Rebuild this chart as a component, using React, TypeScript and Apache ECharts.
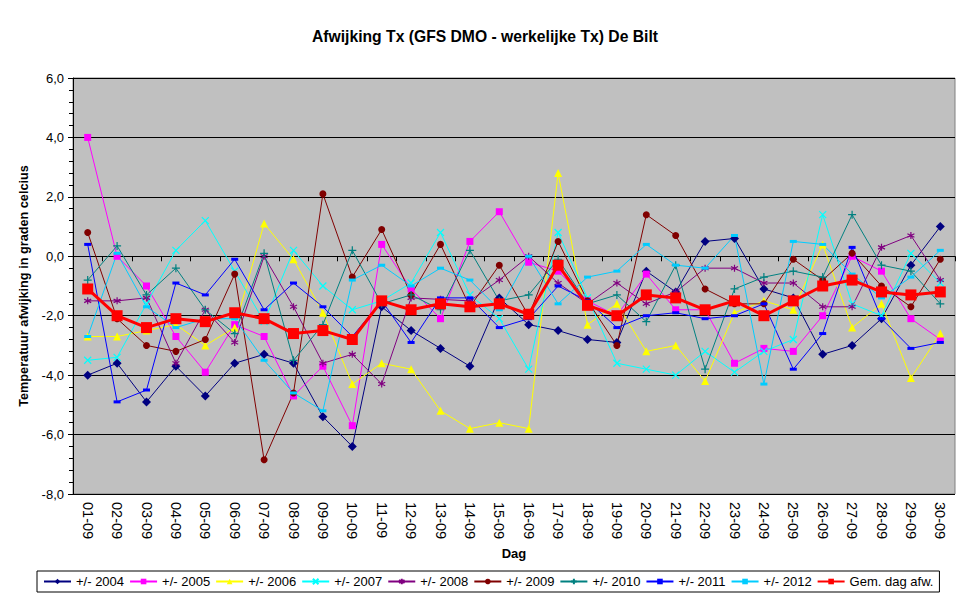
import React, { useEffect, useRef } from "react";
import * as echarts from "echarts";

const days = [
  "01-09", "02-09", "03-09", "04-09", "05-09", "06-09", "07-09", "08-09", "09-09", "10-09",
  "11-09", "12-09", "13-09", "14-09", "15-09", "16-09", "17-09", "18-09", "19-09", "20-09",
  "21-09", "22-09", "23-09", "24-09", "25-09", "26-09", "27-09", "28-09", "29-09", "30-09",
];

const y2004 = [-4.0, -3.6, -4.9, -3.7, -4.7, -3.6, -3.3, -3.6, -5.4, -6.4, -1.7, -2.5, -3.1, -3.7, -1.4, -2.3, -2.5, -2.8, -2.9, -0.5, -1.2, 0.5, 0.6, -1.1, -1.4, -3.3, -3.0, -2.1, -0.3, 1.0];
const y2005 = [4.0, 0.0, -1.0, -2.7, -3.9, -2.3, -2.7, -4.7, -3.7, -5.7, 0.4, -1.1, -2.1, 0.5, 1.5, -0.2, -0.5, -1.5, -2.0, -0.6, -1.8, -1.8, -3.6, -3.1, -3.2, -2.0, 0.0, -0.5, -2.1, -2.8];
const y2006 = [-2.7, -2.7, -2.5, -2.3, -3.0, -2.4, 1.1, -0.1, -1.9, -4.3, -3.6, -3.8, -5.2, -5.8, -5.6, -5.8, 2.8, -2.3, -1.6, -3.2, -3.0, -4.2, -1.9, -1.5, -1.8, 0.4, -2.4, -1.6, -4.1, -2.6];
const y2007 = [-3.5, -3.4, -1.6, 0.2, 1.2, -0.5, -2.2, 0.2, -1.0, -1.8, -1.5, -0.9, 0.8, -1.3, -2.1, -3.8, 0.8, -1.4, -3.6, -3.8, -4.0, -3.2, -3.9, -3.2, -2.8, 1.4, -1.6, -2.0, 0.1, -0.9];
const y2008 = [-1.5, -1.5, -1.4, -3.6, -1.8, -2.9, 0.0, -1.7, -3.6, -3.3, -4.3, -1.4, -1.45, -1.5, -0.8, 0.0, -0.9, -1.6, -0.9, -1.6, -1.2, -0.4, -0.4, -0.9, -0.9, -1.7, -1.7, 0.3, 0.7, -0.8];
const y2009 = [0.8, -2.1, -3.0, -3.2, -2.8, -0.6, -6.85, -4.6, 2.1, -0.7, 0.9, -1.3, 0.4, -1.7, -0.3, -2.0, 0.5, -1.5, -3.0, 1.4, 0.7, -1.1, -1.6, -1.6, -0.1, -0.8, 0.1, -1.0, -1.7, -0.1];
const y2010 = [-0.8, 0.35, -1.3, -0.4, -1.8, -2.6, 0.1, -3.5, -2.3, 0.2, -1.6, -1.3, -1.8, 0.2, -1.5, -1.3, -0.1, -1.6, -1.3, -2.2, -0.3, -3.8, -1.1, -0.7, -0.5, -0.7, 1.4, -0.3, -0.5, -1.6];
const y2011 = [0.4, -4.9, -4.5, -0.9, -1.3, -0.1, -1.8, -0.9, -1.7, -2.7, -1.5, -2.9, -1.4, -1.4, -2.4, -2.1, -1.0, -1.5, -2.4, -2.0, -1.9, -2.1, -2.0, -1.6, -3.8, -2.6, 0.3, -2.1, -3.1, -2.9];
const y2012 = [-2.7, 0.1, -1.7, -2.4, -2.1, -2.1, -3.5, -4.6, -5.2, -0.8, -0.3, -1.0, -0.4, -0.8, -1.8, 0.0, -1.6, -0.7, -0.5, 0.4, -0.3, -0.4, 0.7, -4.3, 0.5, 0.4, -0.6, -1.4, -0.7, 0.2];
const gemDag = [-1.1, -2.0, -2.4, -2.1, -2.2, -1.9, -2.1, -2.6, -2.5, -2.8, -1.5, -1.8, -1.6, -1.7, -1.6, -1.95, -0.3, -1.65, -2.0, -1.3, -1.4, -1.8, -1.5, -2.0, -1.5, -1.0, -0.8, -1.2, -1.3, -1.2];

const FONT = 'Arial, "Liberation Sans", sans-serif';

const SYM_X = "path://M0,0L10,10M10,0L0,10";
const SYM_STAR = "path://M5,0L5,10M0,2.5L10,7.5M0,7.5L10,2.5";
const SYM_PLUS = "path://M5,0L5,10M0,5L10,5";

function mk(name: string, data: number[], color: string, symbol: string, size: any, stroke = false) {
  return {
    name,
    type: "line",
    data,
    symbol,
    symbolSize: size,
    showAllSymbol: true,
    lineStyle: { color, width: 1 },
    itemStyle: stroke
      ? { color, borderColor: color, borderWidth: 1.2 }
      : { color, borderWidth: 0 },
    emphasis: { disabled: true },
  };
}

export default function App() {
  const ref = useRef<HTMLDivElement>(null);
  useEffect(() => {
    const chart = echarts.init(ref.current!, null, { renderer: "svg" });
    const option: any = {
      animation: false,
      backgroundColor: "#ffffff",
      textStyle: { fontFamily: FONT },
      title: {
        text: "Afwijking Tx (GFS DMO - werkelijke Tx) De Bilt",
        left: "center",
        top: 23,
        textStyle: { fontFamily: FONT, fontSize: 15.7, fontWeight: "bold", color: "#000" },
      },
      legend: {
        left: 37,
        top: 571,
        padding: [4, 6, 4, 6],
        itemGap: 5,
        itemWidth: 27,
        itemHeight: 7,
        borderColor: "#000",
        borderWidth: 1,
        textStyle: { fontFamily: FONT, fontSize: 13, color: "#000" },
        data: ["+/- 2004", "+/- 2005", "+/- 2006", "+/- 2007", "+/- 2008", "+/- 2009", "+/- 2010", "+/- 2011", "+/- 2012", "Gem. dag afw."],
      },
      grid: {
        left: 73,
        right: 15,
        top: 78,
        bottom: 109,
        show: true,
        backgroundColor: "#C0C0C0",
        borderColor: "#808080",
        borderWidth: 1,
      },
      xAxis: {
        type: "category",
        data: days,
        boundaryGap: true,
        name: "Dag",
        nameLocation: "middle",
        nameGap: 44,
        nameTextStyle: { fontFamily: FONT, fontSize: 13, fontWeight: "bold", color: "#000" },
        axisLine: { lineStyle: { color: "#000", width: 1 } },
        axisTick: { show: true, length: 5, lineStyle: { color: "#000" } },
        axisLabel: { interval: 0, rotate: -90, margin: 8, fontFamily: FONT, fontSize: 14.5, color: "#000" },
        splitLine: { show: false },
      },
      yAxis: {
        type: "value",
        min: -8,
        max: 6,
        interval: 2,
        name: "Temperatuur afwijking in graden celcius",
        nameLocation: "middle",
        nameGap: 40,
        nameTextStyle: { fontFamily: FONT, fontSize: 12.7, fontWeight: "bold", color: "#000" },
        axisLine: { show: true, lineStyle: { color: "#000", width: 1 } },
        axisTick: { show: true, length: 5, lineStyle: { color: "#000" } },
        minorTick: { show: true, splitNumber: 5, length: 4, lineStyle: { color: "#000" } },
        axisLabel: {
          margin: 9,
          fontFamily: FONT,
          fontSize: 13,
          color: "#000",
          formatter: (v: number) => v.toFixed(1).replace(".", ","),
        },
        splitLine: { show: true, lineStyle: { color: "#000", width: 1 } },
      },
      series: [
        mk("+/- 2004", y2004, "#000080", "diamond", 9),
        mk("+/- 2005", y2005, "#FF00FF", "rect", 7),
        mk("+/- 2006", y2006, "#FFFF00", "triangle", 8),
        mk("+/- 2007", y2007, "#00FFFF", SYM_X, 7, true),
        mk("+/- 2008", y2008, "#800080", SYM_STAR, 7, true),
        mk("+/- 2009", y2009, "#800000", "circle", 7),
        mk("+/- 2010", y2010, "#008080", SYM_PLUS, 8, true),
        mk("+/- 2011", y2011, "#0000FF", "rect", [7, 3]),
        mk("+/- 2012", y2012, "#00CCFF", "rect", [7, 3]),
        {
          name: "Gem. dag afw.",
          type: "line",
          data: gemDag,
          symbol: "rect",
          symbolSize: 11,
          showAllSymbol: true,
          z: 5,
          lineStyle: { color: "#FF0000", width: 3 },
          itemStyle: { color: "#FF0000", borderWidth: 0 },
          emphasis: { disabled: true },
        },
      ],
    };
    chart.setOption(option);
    return () => chart.dispose();
  }, []);
  return (
    <div
      ref={ref}
      style={{ position: "absolute", left: 0, top: 0, width: 970, height: 603 }}
    />
  );
}
